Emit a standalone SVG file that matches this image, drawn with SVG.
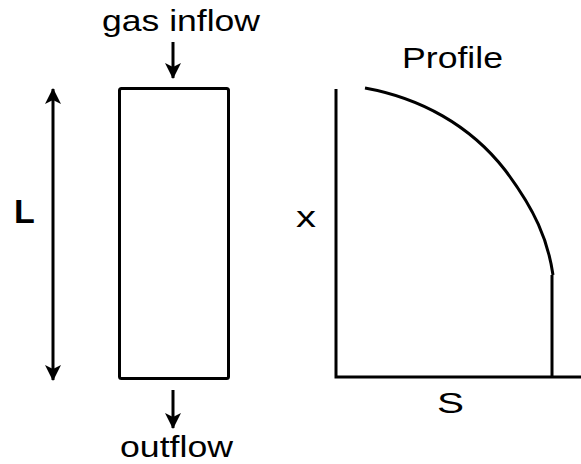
<svg xmlns="http://www.w3.org/2000/svg" width="581" height="464" viewBox="0 0 581 464">
<style>
.t{font-family:"Liberation Sans",Arial,sans-serif;font-size:29px;fill:#000}
.ln{stroke:#000;stroke-width:3;fill:none}
</style>
<defs>
<marker id="ah" viewBox="0 0 16 16" refX="15" refY="8" markerWidth="16" markerHeight="16" markerUnits="userSpaceOnUse" orient="auto">
<path d="M0,0 L16,8 L0,16 L4,8 Z" fill="#000"/>
</marker>
</defs>
<rect width="581" height="464" fill="#fff"/>
<g id="labels">
<text class="t" x="102" y="31" textLength="158" lengthAdjust="spacingAndGlyphs">gas inflow</text>
<text class="t" x="120" y="457" textLength="113" lengthAdjust="spacingAndGlyphs">outflow</text>
<text class="t" x="402" y="68" textLength="101" lengthAdjust="spacingAndGlyphs">Profile</text>
<text class="t" x="296" y="227" textLength="20" lengthAdjust="spacingAndGlyphs">x</text>
<text class="t" x="437" y="413" textLength="27" lengthAdjust="spacingAndGlyphs">S</text>
<text x="14" y="223" style="font-family:'Liberation Sans',Arial,sans-serif;font-size:34px;font-weight:bold">L</text>
</g>
<g id="column">
<rect class="ln" x="119.5" y="88.5" width="109" height="290" rx="2"/>
</g>
<g id="connectors">
<line class="ln" x1="173" y1="42" x2="173" y2="78" marker-end="url(#ah)"/>
<line class="ln" x1="173" y1="390" x2="173" y2="428" marker-end="url(#ah)"/>
<line class="ln" x1="53" y1="234" x2="53" y2="89" marker-end="url(#ah)"/>
<line class="ln" x1="53" y1="234" x2="53" y2="380" marker-end="url(#ah)"/>
</g>
<g id="plot">
<path class="ln" d="M336,89 V377 H581"/>
<path class="ln" d="M552,377 V275"/>
<path class="ln" d="M365,88 C420,98 470,125 505,170 C535,210 548,240 553,275"/>
</g>
</svg>
